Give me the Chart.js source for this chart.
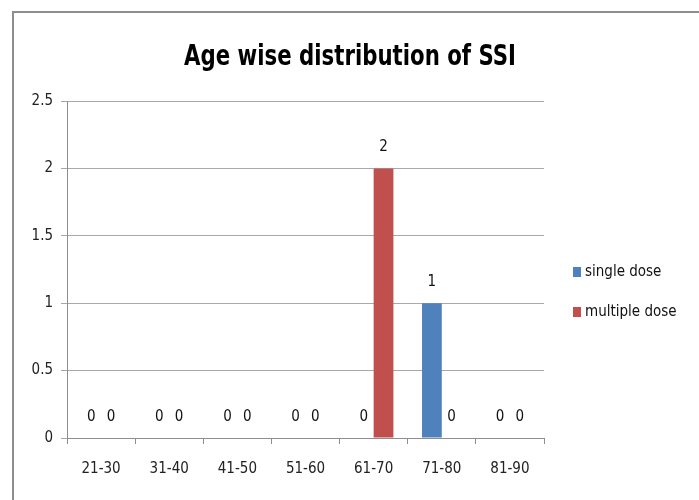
<!DOCTYPE html>
<html>
<head>
<meta charset="utf-8">
<script src="https://cdn.jsdelivr.net/npm/chart.js@4/dist/chart.umd.min.js"></script>
<style>
  html, body { margin: 0; padding: 0; background: #fff; }
  #wrap { position: relative; width: 699px; height: 500px; overflow: hidden; }
  #frame { position: absolute; left: 12px; top: 11px; width: 800px; height: 600px;
           border-left: 2px solid #8e8e8e; border-top: 2px solid #8e8e8e; }
  #myChart { position: absolute; left: 0; top: 0; }
</style>
</head>
<body>
<div id="wrap">
  <div id="frame"></div>
  <canvas id="myChart" width="699" height="500"></canvas>
</div>
<script>
const ageGroups = ['21-30', '31-40', '41-50', '51-60', '61-70', '71-80', '81-90'];
const singleDose = [0, 0, 0, 0, 0, 1, 0];
const multipleDose = [0, 0, 0, 0, 2, 0, 0];
const seriesNames = ['single dose', 'multiple dose'];
const chartTitle = 'Age wise distribution of SSI';
const yMax = 2.5;
const yStep = 0.5;

const FONT = '"Liberation Sans Narrow", "DejaVu Sans Condensed", "Noto Sans", sans-serif';

// title centred on the whole frame, squeezed like the narrow original font
const frameTitle = {
  id: 'frameTitle',
  afterDraw(chart) {
    const ctx = chart.ctx;
    ctx.save();
    ctx.font = 'bold 29px ' + FONT;
    ctx.fillStyle = '#000';
    ctx.textAlign = 'center';
    ctx.textBaseline = 'middle';
    ctx.fillText(chartTitle, 350, 57, 332);
    ctx.restore();
  }
};

// numbers above every bar, zeros included
const valueLabels = {
  id: 'valueLabels',
  afterDatasetsDraw(chart) {
    const ctx = chart.ctx;
    ctx.save();
    ctx.font = '15px ' + FONT;
    ctx.fillStyle = '#111';
    ctx.textAlign = 'center';
    ctx.textBaseline = 'middle';
    chart.data.datasets.forEach(function(ds, i) {
      chart.getDatasetMeta(i).data.forEach(function(bar, j) {
        ctx.fillText(String(ds.data[j]), bar.x, bar.y - 21);
      });
    });
    ctx.restore();
  }
};

// legend on the right, drawn like the spreadsheet one
const sideLegend = {
  id: 'sideLegend',
  afterDraw(chart) {
    const ctx = chart.ctx;
    ctx.save();
    ctx.font = '15px ' + FONT;
    ctx.textBaseline = 'middle';
    ctx.textAlign = 'left';
    chart.data.datasets.forEach(function(ds, i) {
      const y = 272 + i * 40;
      ctx.fillStyle = ds.backgroundColor;
      ctx.fillRect(573, y - 5, 8, 10);
      ctx.fillStyle = '#111';
      ctx.fillText(ds.label, 585, y);
    });
    ctx.restore();
  }
};

new Chart(document.getElementById('myChart'), {
  type: 'bar',
  data: {
    labels: ageGroups,
    datasets: [{
      label: seriesNames[0],
      data: singleDose,
      backgroundColor: '#4f81bd'
    }, {
      label: seriesNames[1],
      data: multipleDose,
      backgroundColor: '#c0504d'
    }]
  },
  options: {
    responsive: false,
    animation: false,
    layout: { padding: { left: 0, top: 101, right: 155, bottom: 0 } },
    datasets: { bar: { categoryPercentage: 0.58, barPercentage: 1 } },
    plugins: {
      legend: { display: false },
      tooltip: { enabled: false },
      title: { display: false }
    },
    scales: {
      x: {
        grid: { drawOnChartArea: false, drawTicks: true, tickLength: 6, color: '#8e8e8e', offset: true },
        border: { color: '#8e8e8e' },
        ticks: { color: '#222', font: { family: FONT, size: 15 }, padding: 16, maxRotation: 0 },
        afterFit: function(s) { s.height = 62; }
      },
      y: {
        min: 0,
        max: yMax,
        ticks: {
          stepSize: yStep,
          color: '#222',
          font: { family: FONT, size: 15 },
          padding: 8,
          callback: function(v) { return String(v); }
        },
        grid: { color: '#a8a8a8', tickLength: 6 },
        border: { color: '#8e8e8e' },
        afterFit: function(s) { s.width = 67; }
      }
    }
  },
  plugins: [valueLabels, sideLegend, frameTitle]
});
</script>
</body>
</html>
